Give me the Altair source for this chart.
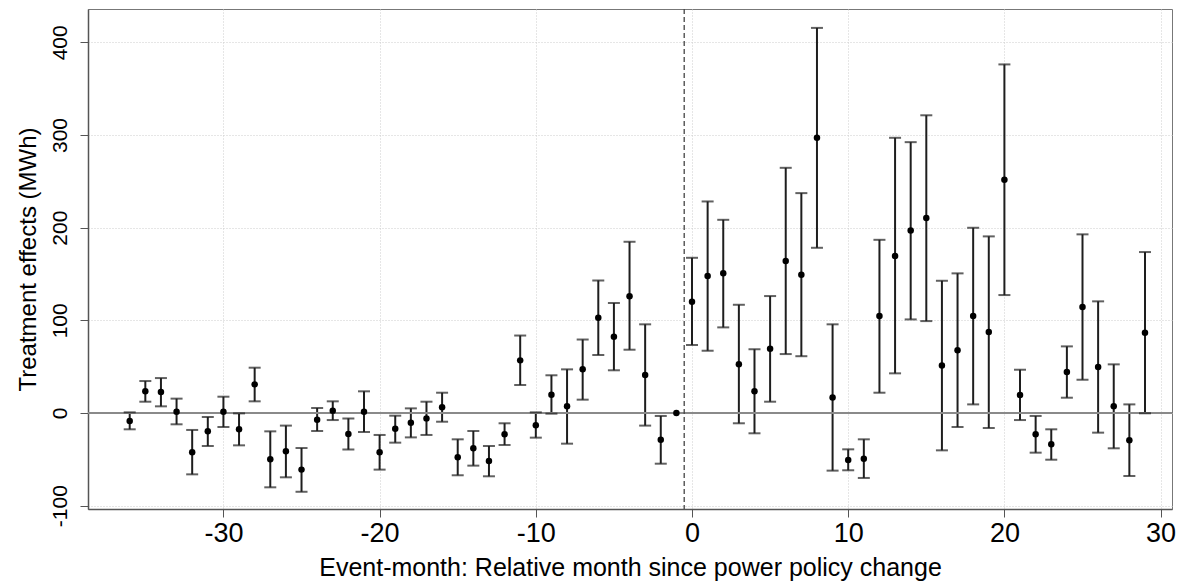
import altair as alt
import pandas as pd

months = list(range(-36, 30))
estimate = [-8.6, 23.4, 22.6, 1.4, -42.4, -19.8, 1.4, -17.6, 30.9, -50.0,
            -41.4, -61.1, -7.2, 2.5, -22.7, 1.4, -42.4, -16.9, -10.4, -5.8,
            6.1, -47.8, -38.1, -51.8, -23.0, 56.8, -13.3, 19.8, 7.2, 47.1,
            102.8, 82.3, 125.9, 41.0, -28.8, 0.0,
            120.1, 147.8, 150.7, 52.7, 23.5, 69.4, 164.0, 149.2, 297.0, 16.7,
            -50.7, -49.3, 104.6, 169.4, 197.0, 210.4, 51.2, 67.6, 104.6, 87.4,
            251.7, 19.4, -23.0, -33.8, 44.2, 114.3, 49.6, 7.2, -29.5, 86.6]
ci_low = [-17.6, 12.2, 7.2, -12.2, -66.2, -35.6, -15.1, -34.9, 12.6, -80.2,
          -69.4, -85.0, -19.4, -7.6, -39.5, -20.5, -61.1, -32.0, -26.3, -23.7,
          -9.4, -67.2, -56.8, -68.3, -34.5, 30.2, -26.6, -0.7, -33.1, 14.4,
          62.6, 46.1, 68.3, -13.6, -54.7, None,
          73.4, 67.2, 92.4, -11.1, -21.9, 12.2, 63.6, 61.3, 178.3, -62.2,
          -61.8, -70.1, 21.9, 42.8, 101.0, 99.2, -40.3, -15.1, 9.3, -16.2,
          127.3, -7.6, -42.8, -50.4, 16.5, 35.9, -21.2, -38.1, -68.0, -0.3]
ci_high = [0.7, 34.5, 37.7, 15.5, -18.3, -4.3, 17.6, -0.4, 48.9, -19.8,
           -13.6, -37.8, 5.4, 12.6, -5.8, 23.4, -23.7, -2.9, 5.0, 12.2,
           21.9, -28.4, -19.4, -35.6, -11.1, 83.6, 0.7, 40.7, 47.1, 79.3,
           143.1, 118.7, 184.8, 95.7, -3.2, None,
           167.5, 228.3, 208.5, 116.8, 68.8, 126.2, 264.6, 237.3, 415.6, 95.7,
           -39.2, -28.4, 186.9, 297.0, 292.3, 321.3, 142.7, 150.7, 199.9, 190.6,
           376.2, 46.7, -3.2, -17.6, 71.9, 192.8, 120.5, 52.5, 9.3, 173.7]

x_ticks = [-30, -20, -10, 0, 10, 20, 30]
y_ticks = [-100, 0, 100, 200, 300, 400]
policy_change = [-0.5]
zero_line = [0]

df = pd.DataFrame({"month": months, "est": estimate, "lo": ci_low, "hi": ci_high})
bars_df = df.dropna()

FONT = "Liberation Sans"
XDOM = [-38.67, 30.73]
YDOM = [-103.6, 436.0]

x_enc = alt.X("month:Q", scale=alt.Scale(domain=XDOM, nice=False, zero=False),
              axis=alt.Axis(values=x_ticks, title="Event-month: Relative month since power policy change",
                            labelExpr="'' + datum.value",
                            labelFontSize=27, titleFontSize=25, labelFont=FONT, titleFont=FONT,
                            labelColor="black", titleColor="black", titleFontWeight="normal",
                            tickSize=8, tickColor="#555", labelPadding=3, titlePadding=9,
                            domainColor="#555", domainWidth=1.5,
                            grid=True, gridColor="#cccccc", gridDash=[1, 2], gridWidth=1))
y_scale = alt.Scale(domain=YDOM, nice=False, zero=False)
y_axis = alt.Axis(values=y_ticks, title="Treatment effects (MWh)", labelAngle=270,
                  labelExpr="'' + datum.value",
                  labelFontSize=21, titleFontSize=24, labelFont=FONT, titleFont=FONT,
                  labelColor="black", titleColor="black", titleFontWeight="normal",
                  tickSize=8, tickColor="#555", labelPadding=10, titlePadding=9,
                  domainColor="#555", domainWidth=1.5,
                  grid=True, gridColor="#cccccc", gridDash=[1, 2], gridWidth=1)

base = alt.Chart(bars_df)

zero = alt.Chart(pd.DataFrame({"y": zero_line})).mark_rule(color="#8a8a8a", strokeWidth=1.8).encode(
    y=alt.Y("y:Q", scale=y_scale))
vline = alt.Chart(pd.DataFrame({"x": policy_change})).mark_rule(
    color="#444", strokeWidth=1.3, strokeDash=[5, 3]).encode(
    x=alt.X("x:Q", scale=alt.Scale(domain=XDOM, nice=False, zero=False)))

bars = base.mark_rule(color="#1e1e1e", strokeWidth=2).encode(
    x=x_enc, y=alt.Y("lo:Q", scale=y_scale, axis=y_axis), y2="hi:Q")
cap_lo = base.mark_tick(color="#1e1e1e", orient="horizontal", size=12, thickness=2).encode(
    x="month:Q", y=alt.Y("lo:Q", scale=y_scale))
cap_hi = base.mark_tick(color="#1e1e1e", orient="horizontal", size=12, thickness=2).encode(
    x="month:Q", y=alt.Y("hi:Q", scale=y_scale))
pts = alt.Chart(df).mark_circle(color="black", size=42, opacity=1).encode(
    x="month:Q", y=alt.Y("est:Q", scale=y_scale))

chart = alt.layer(bars, zero, vline, cap_lo, cap_hi, pts).properties(
    width=1084, height=500,
    autosize=alt.AutoSizeParams(type="none"),
    padding={"left": 80, "top": 1, "right": 4, "bottom": 76},
).configure_view(stroke="#777", strokeWidth=1)

chart.save("out.html", embed_options={"renderer": "svg", "actions": False})
